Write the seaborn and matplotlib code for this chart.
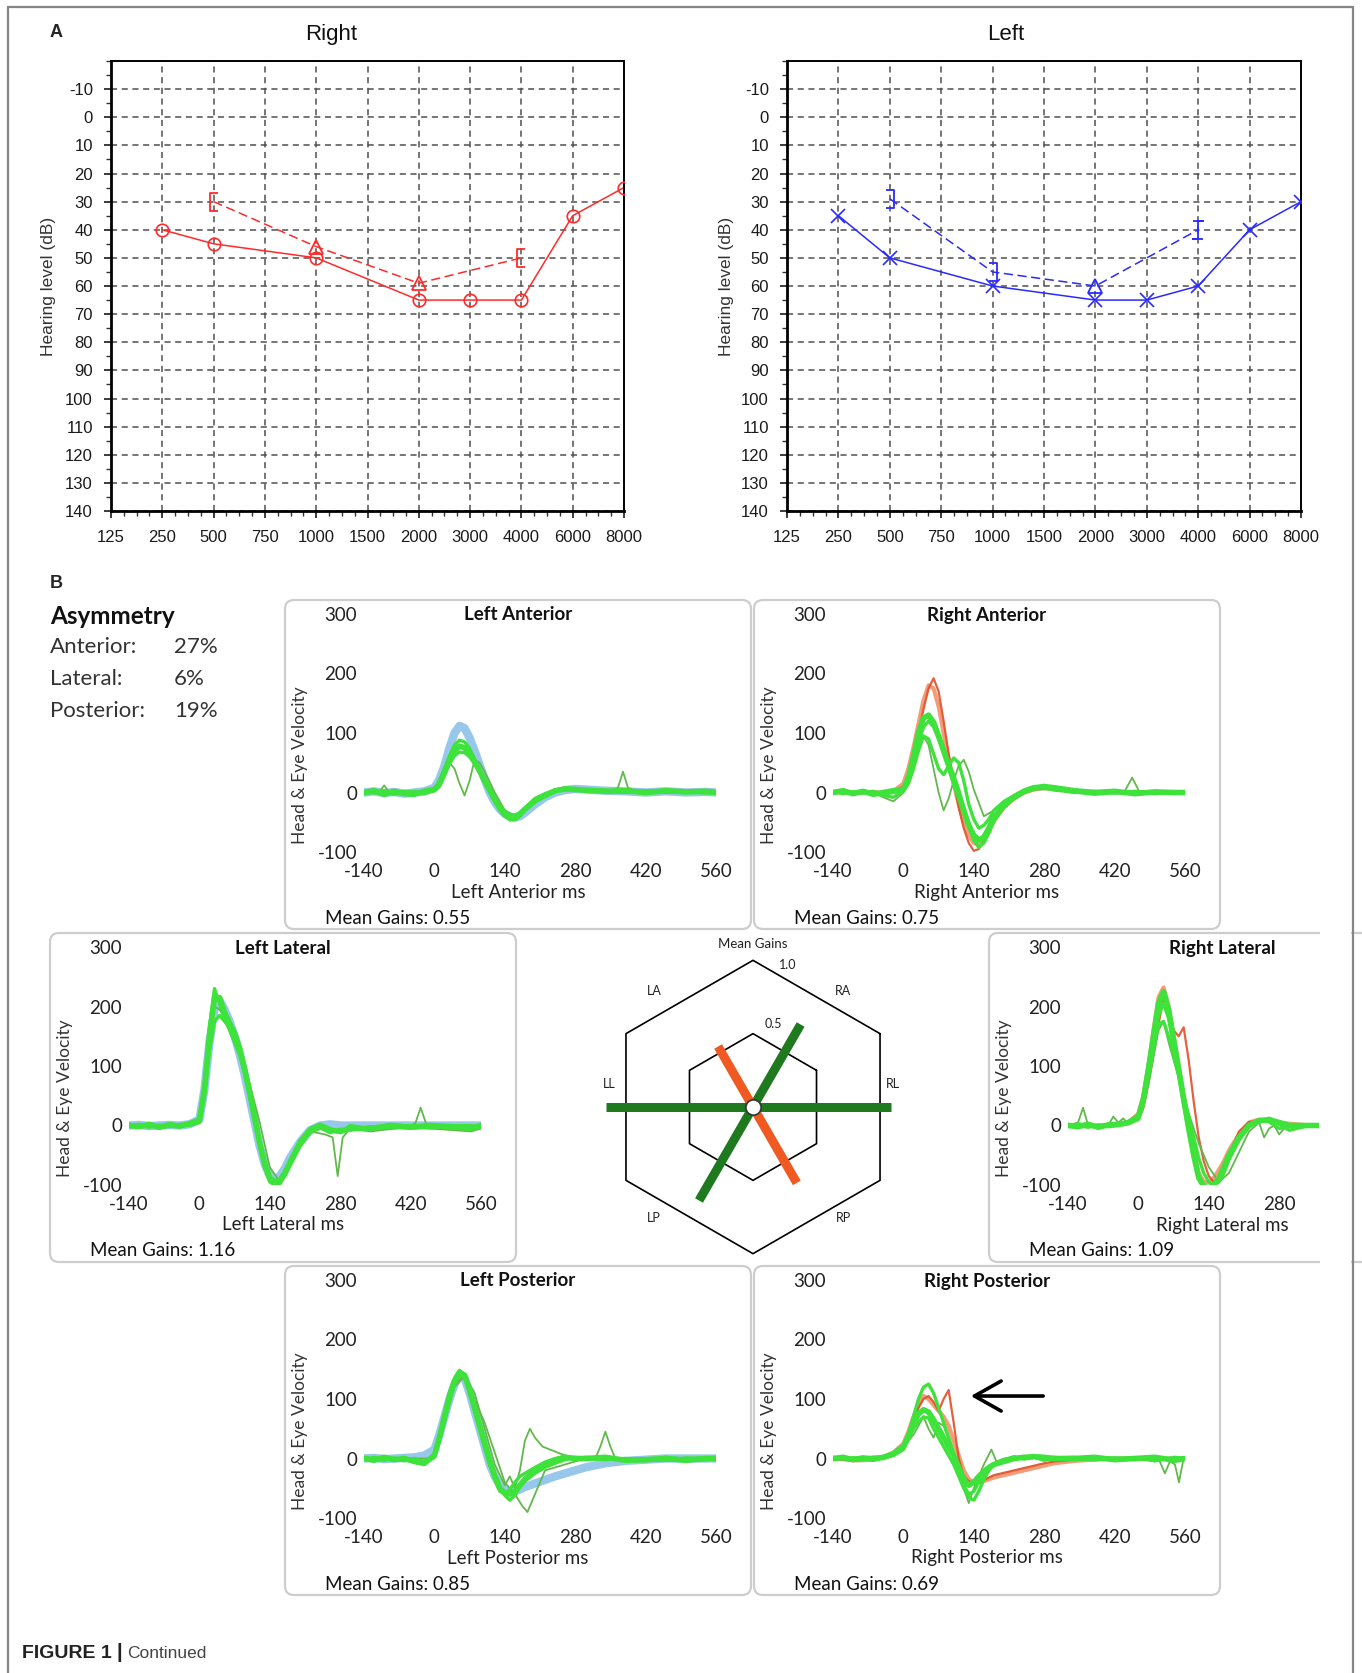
import numpy as np
import pandas as pd
import matplotlib
matplotlib.use("Agg")
import matplotlib.pyplot as plt
import seaborn as sns
from matplotlib.patches import FancyBboxPatch, Rectangle
from matplotlib.ticker import MultipleLocator

# ================= DATA : audiograms (panel A) =================
FREQ_LABELS = ['125', '250', '500', '750', '1000', '1500', '2000', '3000', '4000', '6000', '8000']
AIR_FREQS = ['250', '500', '1000', '2000', '3000', '4000', '6000', '8000']
RIGHT_AIR = [40, 45, 50, 65, 65, 65, 35, 25]
LEFT_AIR = [35, 50, 60, 65, 65, 60, 40, 30]
BONE_FREQS = ['500', '1000', '2000', '4000']
RIGHT_BONE = [30, 46, 59, 50]
LEFT_BONE = [29, 55, 60, 40]
RIGHT_BONE_SYMBOLS = ['[', '^', '^', '[']
LEFT_BONE_SYMBOLS = [']', ']', '^', 'I']
DB_TICKS = list(range(-10, 141, 10))

# ================= DATA : vHIT traces (panel B) =================
T_MS = [-140, -120, -100, -80, -60, -40, -20,
        0, 10, 20, 30, 40, 50, 60, 70, 80, 90, 100, 110, 120, 130, 140, 150, 160, 170, 180,
        200, 220, 240, 260, 280, 300,
        340, 380, 420, 460, 500, 540, 560]
MS_TICKS = [-140, 0, 140, 280, 420, 560]
VEL_TICKS = [-100, 0, 100, 200, 300]

LA_HEAD = [
    [0, 2, -1, 1, -2, 0, 2, 8, 22, 45, 75, 100, 112, 108, 92, 70, 46, 22, 0, -16, -28, -36, -40, -42, -40, -34,
     -20, -8, 0, 4, 6, 5, 3, 2, 0, 2, 0, 1, 0],
]
LA_EYE = [
    [0, 3, -3, 2, -2, -3, 2, 5, 15, 35, 55, 70, 78, 75, 66, 52, 36, 20, 4, -12, -25, -34, -40, -42, -36, -28,
     -14, -5, 3, 6, 5, 4, 2, 3, 0, 3, 1, 2, 0],
    [2, -1, 1, -3, 0, 2, -2, 3, 10, 28, 48, 62, 68, 67, 60, 48, 33, 16, 0, -16, -30, -40, -46, -46, -40, -30,
     -16, -6, 2, 8, 6, 3, 4, 0, 3, 0, 2, -1, 1],
    [-2, 1, 3, -1, 2, -2, 0, 6, 18, 40, 62, 80, 88, 85, 74, 56, 38, 20, 2, -14, -26, -34, -38, -38, -34, -26,
     -10, -2, 4, 5, 7, 3, 1, 4, -1, 2, 0, 3, 0],
]
LA_OUT_T = [[-140, -110, -100, -90, -60, -20, 0, 20, 30, 40, 50, 60, 70, 80, 90, 100, 110, 120, 140, 160, 180, 200,
             240, 280, 350, 365, 375, 385, 400, 450, 560]]
LA_OUT_V = [[0, 0, 12, 0, -2, 0, 6, 40, 50, 40, 15, -5, 20, 55, 50, 35, 18, 0, -30, -40, -30, -12,
             2, 5, 2, 8, 35, 8, 2, 0, 0]]

RA_HEAD = [
    [0, 1, -1, 0, 1, -1, 2, 15, 40, 75, 115, 155, 180, 175, 145, 100, 55, 15, -20, -50, -72, -85, -88, -80, -65, -48,
     -25, -10, 0, 5, 8, 6, 2, 0, 1, 0, 1, 0, 0],
    [0, -1, 1, 0, -1, 1, 1, 10, 30, 60, 100, 140, 175, 192, 170, 120, 65, 20, -25, -60, -85, -98, -95, -82, -65, -45,
     -22, -8, 2, 8, 10, 6, 2, 1, 0, 1, 0, 0, 0],
]
RA_EYE = [
    [0, 3, -2, 2, -3, 0, 3, 5, 25, 60, 100, 125, 130, 118, 95, 70, 45, 20, -5, -30, -55, -72, -80, -75, -60, -42,
     -22, -8, 2, 8, 10, 8, 3, 0, 2, -2, 1, 0, 0],
    [2, -2, 1, -1, 2, -3, 0, 3, 20, 50, 85, 110, 120, 110, 90, 70, 50, 30, 5, -25, -55, -80, -92, -85, -68, -48,
     -24, -10, 0, 6, 12, 6, 0, 2, -1, 1, -2, 1, 0],
    [-1, 2, 0, 3, -2, -5, -8, 2, 15, 40, 70, 95, 90, 65, 40, 30, 45, 58, 50, 20, -20, -45, -60, -55, -45, -30,
     -15, -5, 4, 10, 8, 4, 1, -3, 0, 2, 0, -1, 0],
]
RA_OUT_T = [[-140, -60, -40, -20, 0, 20, 40, 50, 60, 70, 80, 90, 100, 110, 120, 130, 140, 160, 180, 200,
             260, 300, 400, 440, 455, 470, 490, 560]]
RA_OUT_V = [[0, 0, -8, -15, 0, 45, 95, 80, 40, 0, -30, -10, 20, 45, 55, 35, 5, -40, -30, -15,
             5, 5, 0, 2, 25, 0, 2, 0]]

LL_HEAD = [
    [0, 1, -1, 0, 1, 0, 2, 10, 60, 140, 195, 210, 195, 175, 150, 120, 85, 45, 5, -35, -65, -85, -90, -85, -72, -55,
     -28, -8, 0, 2, 0, 0, 0, 0, 0, 0, 0, 0, 0],
]
LL_EYE = [
    [0, -2, 2, -3, 1, -1, 3, 8, 60, 150, 215, 215, 190, 172, 155, 130, 95, 55, 12, -30, -65, -88, -95, -92, -80, -62,
     -30, -8, 0, -8, -10, -5, -5, 0, -3, 0, -2, -5, 0],
    [2, 0, -3, 1, -2, 2, 0, 5, 50, 125, 175, 185, 175, 165, 150, 128, 100, 62, 20, -25, -60, -85, -100, -98, -85, -68,
     -35, -12, -4, -12, -6, -8, -2, -4, 0, -3, 0, -2, -4],
    [-1, 2, 0, -2, 3, 0, 4, 12, 70, 165, 230, 205, 180, 160, 140, 118, 88, 50, 8, -35, -72, -95, -100, -95, -82, -60,
     -25, -5, 2, -5, -12, 0, -6, 2, -2, -4, -1, 0, -3],
]
LL_OUT_T = [[-140, -20, 0, 10, 20, 30, 40, 60, 80, 100, 120, 140, 160, 180, 200, 220,
             250, 265, 275, 285, 300, 340, 420, 430, 440, 450, 460, 540, 560]]
LL_OUT_V = [[0, 0, 5, 55, 140, 200, 195, 165, 135, 70, 5, -70, -95, -70, -30, -10,
             -15, -20, -85, -20, -5, -10, -2, 5, 30, 5, -5, -10, -5]]

RL_HEAD = [
    [0, 1, -1, 0, 1, 2, 5, 20, 50, 100, 160, 215, 232, 200, 150, 100, 50, 0, -45, -80, -95, -95, -88, -75, -60, -42,
     -15, 5, 10, 8, 5, 3, 0, 0, 0, 0, 0, 0, 0],
    [0, -1, 1, 0, -1, 1, 4, 10, 30, 70, 120, 170, 215, 195, 160, 150, 165, 110, 40, -20, -60, -85, -95, -88, -72, -50,
     -10, 6, 8, 6, 3, 2, 0, 0, 0, 0, 0, 0, 0],
]
RL_EYE = [
    [0, -2, 2, -3, 1, 2, 5, 15, 45, 95, 150, 205, 225, 195, 145, 95, 45, -5, -50, -88, -102, -105, -100, -90, -70, -50,
     -20, 0, 8, 10, 5, 0, 0, 0, 0, 0, 0, 0, 0],
    [2, 0, -3, 1, -2, 0, 3, 10, 35, 80, 135, 185, 205, 180, 135, 85, 35, -10, -55, -90, -105, -110, -102, -90, -72, -50,
     -18, 2, 10, 6, -5, -2, 0, 0, 0, 0, 0, 0, 0],
    [-2, 3, 0, -1, 2, 1, 6, 14, 40, 85, 130, 170, 175, 150, 118, 85, 50, 15, -20, -55, -80, -95, -100, -95, -80, -58,
     -25, -2, 6, 12, 2, -8, 0, 0, 0, 0, 0, 0, 0],
]
RL_OUT_T = [[-140, -120, -110, -100, -80, -60, -50, -40, -30, -20, 0, 20, 40, 50, 60, 80, 100, 120, 140, 160, 180,
             200, 220, 240, 250, 260, 270, 280, 290, 300, 320, 360]]
RL_OUT_V = [[0, 5, 30, 0, -5, 0, 15, 5, 12, 2, 10, 70, 160, 175, 140, 80, 20, -30, -70, -95, -80,
             -45, -10, 5, -20, -5, 0, -15, -5, 0, 2, 0]]

LP_HEAD = [
    [0, 1, -1, 0, 1, 2, 5, 15, 40, 70, 100, 125, 140, 135, 110, 80, 50, 20, -10, -30, -45, -52, -55, -55, -52, -48,
     -42, -36, -30, -25, -20, -15, -8, -4, -2, 0, 0, 0, 0],
]
LP_EYE = [
    [0, -3, 2, -2, 0, -5, -8, 5, 35, 70, 105, 130, 145, 140, 115, 85, 55, 25, -5, -30, -50, -58, -60, -55, -45, -35,
     -20, -10, -5, 2, 0, 0, 2, -3, -2, 0, -3, 0, 0],
    [2, -1, -3, 1, -4, 0, -6, 3, 30, 62, 98, 125, 140, 138, 118, 90, 60, 30, 0, -25, -45, -62, -70, -62, -48, -38,
     -25, -15, -8, -2, 2, 0, -2, 0, -4, 2, -1, -2, 0],
    [-2, 2, 0, -3, 2, -6, -10, 8, 40, 75, 110, 135, 148, 138, 110, 80, 48, 18, -10, -35, -55, -60, -52, -40, -30, -25,
     -15, -6, 0, 4, -2, 2, 0, -2, 0, -3, 1, 0, -2],
]
LP_OUT_T = [[-140, -20, 0, 20, 40, 60, 80, 100, 120, 140, 150, 160, 170, 180, 190, 200, 215, 230, 260, 300, 400, 560],
            [-140, 0, 40, 60, 100, 140, 160, 175, 185, 200, 220, 300, 320, 330, 340, 350, 360, 400, 560]]
LP_OUT_V = [[0, -5, 5, 70, 125, 140, 110, 50, -10, -45, -30, -50, -20, 30, 50, 35, 20, 15, 5, 0, 0, 0],
            [0, 0, 120, 138, 60, -40, -60, -80, -90, -60, -20, 0, 0, 20, 45, 20, 0, -5, 0]]

RP_HEAD = [
    [0, -1, -3, -3, -2, 2, 10, 25, 45, 70, 90, 105, 100, 90, 80, 70, 55, 30, 5, -20, -35, -40, -40, -38, -35, -32,
     -28, -24, -20, -16, -12, -8, -4, -2, 0, 0, 0, 0, 0],
    [0, -2, -4, -2, -1, 3, 8, 20, 40, 65, 85, 100, 105, 95, 80, 100, 115, 60, 0, -30, -38, -42, -40, -36, -32, -28,
     -24, -20, -16, -12, -8, -5, -2, 0, 0, 0, 0, 0, 0],
]
RP_EYE = [
    [0, 2, -2, 1, -1, 2, 8, 20, 38, 60, 75, 82, 78, 65, 50, 35, 20, 5, -15, -35, -45, -40, -30, -22, -15, -10,
     -5, 0, 2, 3, 2, 0, 0, 2, -2, 0, 2, -3, 0],
    [2, -1, 1, -2, 2, 0, 6, 18, 40, 70, 100, 120, 125, 110, 85, 60, 35, 10, -20, -45, -60, -55, -40, -28, -18, -10,
     -4, 2, 0, 4, 0, 2, -2, 0, 1, -2, 0, -1, 0],
    [-2, 1, 0, 2, -2, 1, 5, 15, 32, 50, 62, 70, 68, 50, 35, 20, 5, -10, -30, -50, -65, -70, -55, -35, -20, -10,
     -2, 3, -1, 2, -3, 1, 2, -2, 0, 1, -4, 2, 0],
]
RP_OUT_T = [[-140, -20, 0, 20, 40, 50, 60, 70, 80, 100, 120, 130, 140, 160, 175, 185, 200, 300, 400, 500,
             510, 520, 530, 540, 548, 556, 560]]
RP_OUT_V = [[0, 5, 20, 40, 70, 50, 35, 60, 55, 10, -50, -75, -50, -10, 15, -5, 0, 2, 0, 0,
             -5, -25, -5, -10, -40, -5, 0]]

CANALS = ['RL', 'RA', 'LA', 'LL', 'LP', 'RP']
MEAN_GAINS = [1.09, 0.75, 0.55, 1.16, 0.85, 0.69]
ASYM_NAMES = ['Anterior:', 'Lateral:', 'Posterior:']
ASYM_VALUES = ['27%', '6%', '19%']

# ================= styling / layout =================
sns.set_style('white')
VFONT = ['Lato', 'DejaVu Sans']
AFONT = ['Liberation Sans', 'DejaVu Sans']
plt.rcParams['font.family'] = VFONT
plt.rcParams['axes.unicode_minus'] = False

W, H = 1362, 1673
fig = plt.figure(figsize=(W / 100, H / 100), dpi=100)


def px_axes(x0, y0, x1, y1):
    return fig.add_axes([x0 / W, 1 - y1 / H, (x1 - x0) / W, (y1 - y0) / H])


over = px_axes(0, 0, W, H)
over.set_xlim(0, W)
over.set_ylim(H, 0)
over.axis('off')

# outer frame
FRAME = '#858585'
over.plot([8, 8], [7, H], color=FRAME, lw=1.6)
over.plot([8, 1353], [7, 7], color=FRAME, lw=1.6)
over.plot([1353, 1353], [7, H], color=FRAME, lw=1.6)

over.text(50, 32, 'A', fontsize=13, fontweight='bold', family=AFONT, va='center')
over.text(50, 583, 'B', fontsize=13, fontweight='bold', family=AFONT, va='center')
over.text(22, 1653, 'FIGURE 1', fontsize=14, fontweight='bold', family=AFONT, va='center', color='#222222')
over.text(117, 1652, '|', fontsize=14.5, fontweight='bold', family=AFONT, va='center', color='#222222')
over.text(127, 1653, 'Continued', fontsize=12.5, family=AFONT, va='center', color='#444444')


# ---------------- audiograms ----------------
def bracket(kind):
    if kind == '[':
        return [(0.45, 1), (-0.45, 1), (-0.45, -1), (0.45, -1)]
    if kind == ']':
        return [(-0.45, 1), (0.45, 1), (0.45, -1), (-0.45, -1)]
    if kind == 'I':
        return [(-0.5, 1), (0.5, 1), (0, 1), (0, -1), (-0.5, -1), (0.5, -1)]
    return kind


def audiogram(x0, x1, title, title_x, ylab_x, color, air, air_marker, bone, bone_syms):
    ax = px_axes(x0, 61, x1, 511)
    ax.set_facecolor('white')
    xi_air = [FREQ_LABELS.index(f) for f in AIR_FREQS]
    xi_bone = [FREQ_LABELS.index(f) for f in BONE_FREQS]
    sns.lineplot(x=xi_air, y=air, ax=ax, color=color, lw=1.1, legend=False)
    sns.lineplot(x=xi_bone, y=bone, ax=ax, color=color, lw=1.1, linestyle=(0, (6, 3)), legend=False)
    if air_marker == 'o':
        ax.plot(xi_air, air, ls='none', marker='o', ms=9, mfc='none', mec=color, mew=1.2, zorder=5)
    else:
        ax.plot(xi_air, air, ls='none', marker='x', ms=10, mec=color, mew=1.2, zorder=5)
    for xi, v, s in zip(xi_bone, bone, bone_syms):
        ms = 10 if s == '^' else 13
        ax.plot([xi], [v], ls='none', marker=bracket(s), ms=ms, mfc='none', mec=color, mew=1.3, zorder=5)
    ax.set_xlim(0, len(FREQ_LABELS) - 1)
    ax.set_ylim(140, -20)
    ax.set_xticks(range(len(FREQ_LABELS)))
    ax.set_xticklabels(FREQ_LABELS, family=AFONT)
    ax.set_yticks(DB_TICKS)
    ax.set_yticklabels([str(v) for v in DB_TICKS], family=AFONT)
    ax.xaxis.set_minor_locator(MultipleLocator(0.25))
    ax.yaxis.set_minor_locator(MultipleLocator(5))
    ax.tick_params(axis='both', which='major', labelsize=12, colors='#1a1a1a', length=5, width=1.2, direction='out')
    ax.tick_params(axis='x', which='major', pad=9)
    ax.tick_params(axis='y', which='major', pad=8)
    ax.tick_params(axis='both', which='minor', length=3.5, width=1, color='#333333', direction='out')
    ax.tick_params(axis='both', which='both', bottom=True, left=True)
    ax.grid(True, which='major', color='#505050', lw=1.1, linestyle=(0, (4, 3)))
    for side, spine in ax.spines.items():
        spine.set_visible(True)
        spine.set_color('black')
        spine.set_linewidth(2.0 if side in ('left', 'bottom') else 1.4)
    ax.set_xlabel('')
    ax.set_ylabel('')
    over.text(title_x, 34, title, fontsize=16, family=AFONT, ha='center', va='center', color='#111111')
    over.text(ylab_x, 286, 'Hearing level (dB)', fontsize=12.5, family=AFONT, rotation=90,
              ha='center', va='center', color='#333333')
    return ax


audiogram(111, 624, 'Right', 331, 49, '#ff2a2a', RIGHT_AIR, 'o', RIGHT_BONE, RIGHT_BONE_SYMBOLS)
audiogram(787, 1301, 'Left', 1006, 726, '#2a2aff', LEFT_AIR, 'x', LEFT_BONE, LEFT_BONE_SYMBOLS)

# ---------------- asymmetry block ----------------
over.text(50, 616, 'Asymmetry', fontsize=17.5, fontweight='bold', va='center', color='#111111')
for i, (nm, val) in enumerate(zip(ASYM_NAMES, ASYM_VALUES)):
    over.text(50, 647 + 32 * i, nm, fontsize=16, va='center', color='#333333')
    over.text(174, 647 + 32 * i, val, fontsize=16, va='center', color='#333333')

# ---------------- vHIT panels ----------------
GREEN = '#3de23a'
GREEN_DARK = '#62b84c'
BLUE = '#8cc2ea'
ORANGE = ['#f19268', '#e0502c']


def vhit(L, T, title, xlab, heads, head_cols, head_lw, eyes, out_t, out_v, gain, xmax=560):
    x_right = L + 79 + (xmax + 140) / 700 * 352
    ax = px_axes(L + 79, T + 14, x_right, T + 252)
    ax.set_facecolor('none')
    for k, h in enumerate(heads):
        sns.lineplot(x=T_MS, y=h, ax=ax, color=head_cols[k % len(head_cols)], lw=head_lw[k % len(head_lw)],
                     sort=False, estimator=None, legend=False, alpha=0.9)
    for tt, vv in zip(out_t, out_v):
        sns.lineplot(x=tt, y=vv, ax=ax, color=GREEN_DARK, lw=1.3, sort=False, estimator=None, legend=False)
    for k, e in enumerate(eyes):
        sns.lineplot(x=T_MS, y=e, ax=ax, color=GREEN, lw=4.0 if k == 0 else 2.4,
                     sort=False, estimator=None, legend=False)
    ax.set_xlim(-140, xmax)
    ax.set_ylim(-100, 300)
    ax.set_xticks([m for m in MS_TICKS if m <= xmax])
    ax.set_yticks(VEL_TICKS)
    ax.tick_params(axis='both', labelsize=13.5, length=0, colors='#222222')
    ax.tick_params(axis='x', pad=8)
    ax.tick_params(axis='y', pad=5)
    for s in ax.spines.values():
        s.set_visible(False)
    ax.set_xlabel('')
    ax.set_ylabel('')
    ax.grid(False)
    # box and texts (pixel coordinates)
    over.add_patch(FancyBboxPatch((L, T), 466, 329, boxstyle='round,pad=0,rounding_size=9',
                                  ec='#cdcdcd', fc='none', lw=1.6))
    over.text(L + 233, T + 15, title, fontsize=13.5, fontweight='bold', ha='center', va='center', color='#111111')
    over.text(L + 233, T + 292, xlab, fontsize=13.5, ha='center', va='center', color='#222222')
    over.text(L + 40, T + 318, 'Mean Gains: ' + gain, fontsize=13.5, ha='left', va='center', color='#111111')
    over.text(L + 15, T + 165, 'Head & Eye Velocity', fontsize=12.5, rotation=90, ha='center', va='center',
              color='#333333')
    return ax


vhit(285, 600, 'Left Anterior', 'Left Anterior ms', LA_HEAD, [BLUE], [6.0], LA_EYE, LA_OUT_T, LA_OUT_V, '0.55')
vhit(754, 600, 'Right Anterior', 'Right Anterior ms', RA_HEAD, ORANGE, [3.0, 1.6], RA_EYE, RA_OUT_T, RA_OUT_V, '0.75')
vhit(50, 933, 'Left Lateral', 'Left Lateral ms', LL_HEAD, [BLUE], [6.0], LL_EYE, LL_OUT_T, LL_OUT_V, '1.16')
vhit(989, 933, 'Right Lateral', 'Right Lateral ms', RL_HEAD, ORANGE, [3.0, 1.6], RL_EYE, RL_OUT_T, RL_OUT_V, '1.09',
     xmax=359)
ax_lp = vhit(285, 1266, 'Left Posterior', 'Left Posterior ms', LP_HEAD, [BLUE], [6.0], LP_EYE, LP_OUT_T, LP_OUT_V,
             '0.85')
ax_rp = vhit(754, 1266, 'Right Posterior', 'Right Posterior ms', RP_HEAD, ORANGE, [3.0, 1.6], RP_EYE, RP_OUT_T,
             RP_OUT_V, '0.69')

# clip right-lateral panel box at the frame
over.add_patch(Rectangle((1320, 925), 31, 345, fc='white', ec='none', zorder=5))

# arrow pointing at the covert saccade in Right Posterior
ARROW_TIP = (134, 105)
ARROW_TAIL = (278, 105)
ax_rp.annotate('', xy=ARROW_TIP, xytext=ARROW_TAIL, annotation_clip=False,
               arrowprops=dict(arrowstyle='->,head_length=0.8,head_width=0.45', lw=2.6, color='black',
                               mutation_scale=24, shrinkA=0, shrinkB=0))

# ---------------- mean gains hexagon ----------------
hax = px_axes(573, 927, 933, 1287)
hax.set_xlim(-1.417, 1.417)
hax.set_ylim(-1.417, 1.417)
hax.axis('off')
HEX_LEVELS = [1.0, 0.5]
vert_ang = np.deg2rad(np.arange(30, 391, 60))
for lev in HEX_LEVELS:
    r = lev / np.cos(np.pi / 6)
    sns.lineplot(x=r * np.cos(vert_ang), y=r * np.sin(vert_ang), ax=hax, color='black', lw=1.2,
                 sort=False, estimator=None, legend=False)
CANAL_ANGLE = {'RL': 0, 'RA': 60, 'LA': 120, 'LL': 180, 'LP': 240, 'RP': 300}
for name, g in zip(CANALS, MEAN_GAINS):
    a = np.deg2rad(CANAL_ANGLE[name])
    col = '#f05a22' if g < 0.7 else '#1f7a1f'
    hax.plot([0, g * np.cos(a)], [0, g * np.sin(a)], color=col, lw=6.5, solid_capstyle='butt', zorder=3)
hax.plot([0], [0], marker='o', ms=11, mfc='white', mec='#333333', mew=1.2, zorder=6)
LABEL_POS = {'LA': (-0.78, 0.91), 'RA': (0.71, 0.91), 'LL': (-1.13, 0.18), 'RL': (1.1, 0.18),
             'LP': (-0.78, -0.87), 'RP': (0.71, -0.87)}
for name in CANALS:
    hax.text(*LABEL_POS[name], name, fontsize=9, ha='center', va='center', color='#222222')
hax.text(0, 1.283, 'Mean Gains', fontsize=9.5, ha='center', va='center', color='#222222')
hax.text(0.27, 1.12, '1.0', fontsize=9, ha='center', va='center', color='#222222')
hax.text(0.16, 0.65, '0.5', fontsize=9, ha='center', va='center', color='#222222')

fig.savefig('out.png', dpi=100)
